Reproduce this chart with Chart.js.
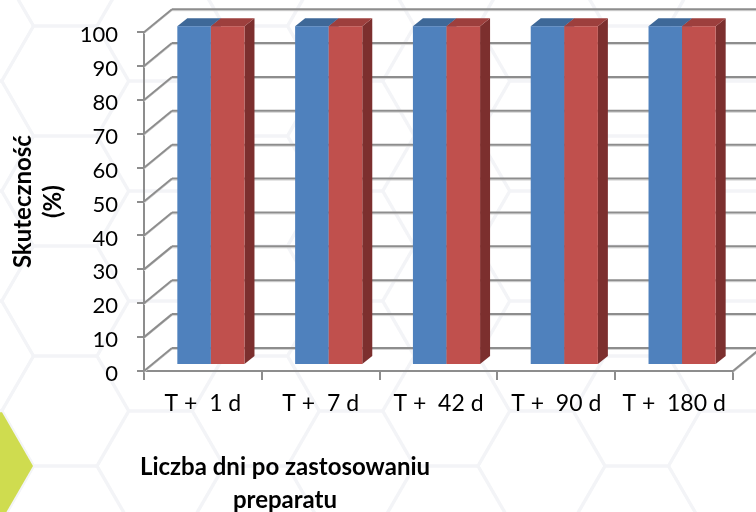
<!DOCTYPE html>
<html>
<head>
<meta charset="utf-8">
<script src="https://cdn.jsdelivr.net/npm/chart.js@4.4.1/dist/chart.umd.min.js"></script>
<style>
  html, body { margin: 0; padding: 0; background: #ffffff; }
  #wrap { width: 756px; height: 512px; }
</style>
</head>
<body>
<div id="wrap"><canvas id="c" width="756" height="512"></canvas></div>
<script>
// Days after application and measured efficacy (%) for the two series
const categories = ['T +  1 d', 'T +  7 d', 'T +  42 d', 'T +  90 d', 'T +  180 d'];
const seriesBlue = [100, 100, 100, 100, 100];
const seriesRed = [100, 100, 100, 100, 100];
const yMin = 0;
const yMax = 100;
const yStep = 10;
const yTitleLines = ['Skuteczność', '(%)'];
const xTitleLines = ['Liczba dni po zastosowaniu', 'preparatu'];

// Depth of the 3D box (back wall offset) and of the bars
const WALL_DX = 28, WALL_DY = -23;
const BAR_FX = 8, BAR_FY = -6;     // bar front face, pushed into the box
const BAR_DX = 10, BAR_DY = -8;    // bar thickness

const faces = [
  { front: '#4f81bd', top: '#3e6898', side: '#385f8c' },
  { front: '#c0504d', top: '#9d3f3d', side: '#7c2f2e' }
];

const GRID = '#8d8d8d';
const GRID_SHADOW = '#d4d4d4';

function hexPath(ctx, cx, cy, r) {
  ctx.beginPath();
  for (let k = 0; k < 6; k++) {
    const a = Math.PI / 3 * k;
    const px = cx + r * Math.cos(a), py = cy + r * Math.sin(a);
    if (k === 0) ctx.moveTo(px, py); else ctx.lineTo(px, py);
  }
  ctx.closePath();
}

// Honeycomb backdrop with the green accent cell
const backdrop = {
  id: 'backdrop',
  beforeDraw(chart) {
    const ctx = chart.ctx;
    const W = chart.width, H = chart.height;
    ctx.save();
    ctx.fillStyle = '#ffffff';
    ctx.fillRect(0, 0, W, H);
    const r = 63.5, h = r * Math.sqrt(3);
    ctx.strokeStyle = '#f3f4f7';
    ctx.lineWidth = 3;
    for (let i = -1; i < 10; i++) {
      const cx = -30 + 1.5 * r * i;
      const baseY = 466 + ((i % 2 !== 0) ? -h / 2 : 0);
      for (let j = -6; j < 3; j++) {
        hexPath(ctx, cx, baseY + h * j, r);
        ctx.stroke();
      }
    }
    ctx.fillStyle = '#cfdc4f';
    hexPath(ctx, -29, 466, 62);
    ctx.fill();
    ctx.restore();
  }
};

function line(ctx, x1, y1, x2, y2) {
  ctx.beginPath();
  ctx.moveTo(x1, y1);
  ctx.lineTo(x2, y2);
  ctx.stroke();
}

function gridLine(ctx, x1, y1, x2, y2) {
  ctx.strokeStyle = GRID_SHADOW;
  ctx.lineWidth = 1;
  line(ctx, x1, y1 + 1.5, x2, y2 + 1.5);
  ctx.strokeStyle = GRID;
  ctx.lineWidth = 2;
  line(ctx, x1, y1, x2, y2);
}

// Back wall, side wall, floor and the extruded bars
const depth3d = {
  id: 'depth3d',
  beforeDatasetsDraw(chart) {
    const ctx = chart.ctx;
    const area = chart.chartArea;
    const ys = chart.scales.y;
    ctx.save();
    ctx.lineCap = 'butt';
    for (let v = yMin; v <= yMax; v += yStep) {
      const y = ys.getPixelForValue(v);
      gridLine(ctx, area.left + WALL_DX, y + WALL_DY, area.right + WALL_DX, y + WALL_DY);
      gridLine(ctx, area.left, y, area.left + WALL_DX, y + WALL_DY);
    }
    gridLine(ctx, area.right, area.bottom, area.right + WALL_DX, area.bottom + WALL_DY);

    const metas = chart.data.datasets.map((d, i) => chart.getDatasetMeta(i));
    const n = chart.data.labels.length;
    for (let i = 0; i < n; i++) {
      metas.forEach((meta, di) => {
        const el = meta.data[i];
        if (!el) return;
        const p = el.getProps(['x', 'y', 'base', 'width'], true);
        const l = p.x - p.width / 2 + BAR_FX;
        const r = p.x + p.width / 2 + BAR_FX;
        const t = p.y + BAR_FY;
        const b = p.base + BAR_FY;
        const c = faces[di];
        // side face
        ctx.fillStyle = c.side;
        ctx.beginPath();
        ctx.moveTo(r, t); ctx.lineTo(r + BAR_DX, t + BAR_DY);
        ctx.lineTo(r + BAR_DX, b + BAR_DY); ctx.lineTo(r, b);
        ctx.closePath(); ctx.fill();
        // top face
        ctx.fillStyle = c.top;
        ctx.beginPath();
        ctx.moveTo(l, t); ctx.lineTo(l + BAR_DX, t + BAR_DY);
        ctx.lineTo(r + BAR_DX, t + BAR_DY); ctx.lineTo(r, t);
        ctx.closePath(); ctx.fill();
        // front face
        ctx.fillStyle = c.front;
        ctx.fillRect(l, t, r - l, b - t);
      });
    }
    ctx.restore();
    return false;
  },
  afterDraw(chart) {
    const ctx = chart.ctx;
    ctx.save();
    ctx.fillStyle = '#000000';
    ctx.font = 'bold 24px Lato';
    ctx.textAlign = 'center';
    ctx.textBaseline = 'middle';
    ctx.fillText(xTitleLines[0], 285, 467);
    ctx.fillText(xTitleLines[1], 285, 500);
    ctx.restore();
  }
};

new Chart(document.getElementById('c'), {
  type: 'bar',
  data: {
    labels: categories,
    datasets: [
      { label: 'A', data: seriesBlue, backgroundColor: faces[0].front },
      { label: 'B', data: seriesRed, backgroundColor: faces[1].front }
    ]
  },
  options: {
    responsive: false,
    animation: false,
    devicePixelRatio: 1,
    layout: { padding: { left: 0, top: 31, right: 23, bottom: 0 } },
    datasets: { bar: { categoryPercentage: 0.57, barPercentage: 1.0 } },
    plugins: {
      legend: { display: false },
      tooltip: { enabled: false },
      title: { display: false }
    },
    scales: {
      x: {
        offset: true,
        grid: { offset: true, drawOnChartArea: false, drawTicks: true, tickLength: 9, color: GRID, lineWidth: 2 },
        border: { display: true, color: GRID, width: 2 },
        ticks: { color: '#000000', font: { family: 'Lato', size: 23 }, padding: 10, maxRotation: 0, autoSkip: false },
        afterFit(scale) { scale.height = 141; }
      },
      y: {
        min: yMin,
        max: yMax,
        grid: { drawOnChartArea: false, drawTicks: true, tickLength: 7, color: GRID, lineWidth: 2 },
        border: { display: true, color: GRID, width: 2 },
        ticks: { stepSize: yStep, color: '#000000', font: { family: 'Lato', size: 22 }, padding: 19, labelOffset: 3 },
        title: {
          display: true,
          text: yTitleLines,
          color: '#000000',
          font: { family: 'Lato', size: 24, weight: 'bold', lineHeight: '30px' },
          padding: { top: 8, bottom: 0 }
        },
        afterFit(scale) { scale.width = 144; }
      }
    }
  },
  plugins: [backdrop, depth3d]
});
</script>
</body>
</html>
